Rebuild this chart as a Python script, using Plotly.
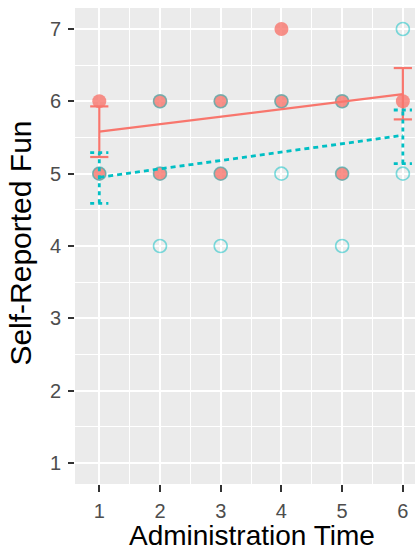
import plotly.graph_objects as go

# Data
red_x = [1, 1, 2, 2, 3, 3, 4, 4, 5, 5, 6]
red_y = [6, 5, 6, 5, 6, 5, 7, 6, 6, 5, 6]
cyan_x = [1, 2, 2, 2, 3, 3, 3, 4, 4, 5, 5, 5, 6, 6]
cyan_y = [5, 6, 5, 4, 6, 5, 4, 6, 5, 6, 5, 4, 7, 5]

end_times = [1, 6]
red_mean = [5.58, 6.10]
red_lo = [5.23, 5.75]
red_hi = [5.93, 6.46]
cyan_mean = [4.95, 5.53]
cyan_lo = [4.59, 5.14]
cyan_hi = [5.29, 5.88]

x_ticks = [1, 2, 3, 4, 5, 6]
y_ticks = [1, 2, 3, 4, 5, 6, 7]

RED = "#F8766D"
CYAN = "#00BFC4"
CAP = 0.15

fig = go.Figure()

fig.add_trace(go.Scatter(x=red_x, y=red_y, mode="markers",
                         marker=dict(size=14, color=RED, opacity=0.8,
                                     line=dict(width=0)), showlegend=False))
fig.add_trace(go.Scatter(x=cyan_x, y=cyan_y, mode="markers",
                         marker=dict(size=13, color="rgba(0,0,0,0)",
                                     line=dict(width=1.7, color="rgba(0,191,196,0.5)")),
                         showlegend=False))


def err_traces(xs, lo, hi, color, dash, width):
    ex, ey = [], []
    for x, l, h in zip(xs, lo, hi):
        ex += [x, x, None, x - CAP, x + CAP, None, x - CAP, x + CAP, None]
        ey += [l, h, None, l, l, None, h, h, None]
    return go.Scatter(x=ex, y=ey, mode="lines",
                      line=dict(color=color, width=width, dash=dash),
                      showlegend=False, hoverinfo="skip")


fig.add_trace(err_traces(end_times, red_lo, red_hi, RED, "solid", 2.2))
fig.add_trace(go.Scatter(x=end_times, y=red_mean, mode="lines",
                         line=dict(color=RED, width=2.2), showlegend=False))
fig.add_trace(err_traces(end_times, cyan_lo, cyan_hi, CYAN, "4px,4px", 2.8))
fig.add_trace(go.Scatter(x=end_times, y=cyan_mean, mode="lines",
                         line=dict(color=CYAN, width=2.8, dash="5px,4px"),
                         showlegend=False))

font = "Liberation Sans, Arial, sans-serif"
fig.update_layout(
    width=415, height=550,
    margin=dict(l=75, r=0, t=8, b=66),
    paper_bgcolor="white", plot_bgcolor="#EBEBEB",
    font=dict(family=font),
    showlegend=False,
)
fig.update_xaxes(range=[0.6, 6.2], tickvals=x_ticks, ticks="outside", ticklen=7,
                 tickwidth=2, tickcolor="#333333", ticklabelstandoff=2,
                 tickfont=dict(size=20, color="#4D4D4D", family=font),
                 showgrid=True, gridcolor="white", gridwidth=1.8,
                 minor=dict(dtick=0.5, tick0=0.5, showgrid=True, gridcolor="white", gridwidth=0.9),
                 zeroline=False, showline=False)
fig.update_yaxes(range=[0.71, 7.29], tickvals=y_ticks, ticks="outside", ticklen=6,
                 tickwidth=2, tickcolor="#333333", ticklabelstandoff=3,
                 tickfont=dict(size=20, color="#4D4D4D", family=font),
                 showgrid=True, gridcolor="white", gridwidth=1.8,
                 minor=dict(dtick=0.5, tick0=0.5, showgrid=True, gridcolor="white", gridwidth=0.9),
                 zeroline=False, showline=False)
fig.add_annotation(text="Administration Time", xref="paper", yref="paper",
                   x=0.52, y=0, yshift=-51, yanchor="middle", showarrow=False,
                   font=dict(size=28, color="black", family=font))
fig.add_annotation(text="Self-Reported Fun", xref="paper", yref="paper",
                   x=0, y=0.505, xshift=-54, xanchor="center", yanchor="middle",
                   textangle=-90, showarrow=False,
                   font=dict(size=30, color="black", family=font))

fig.write_html("out.html")
